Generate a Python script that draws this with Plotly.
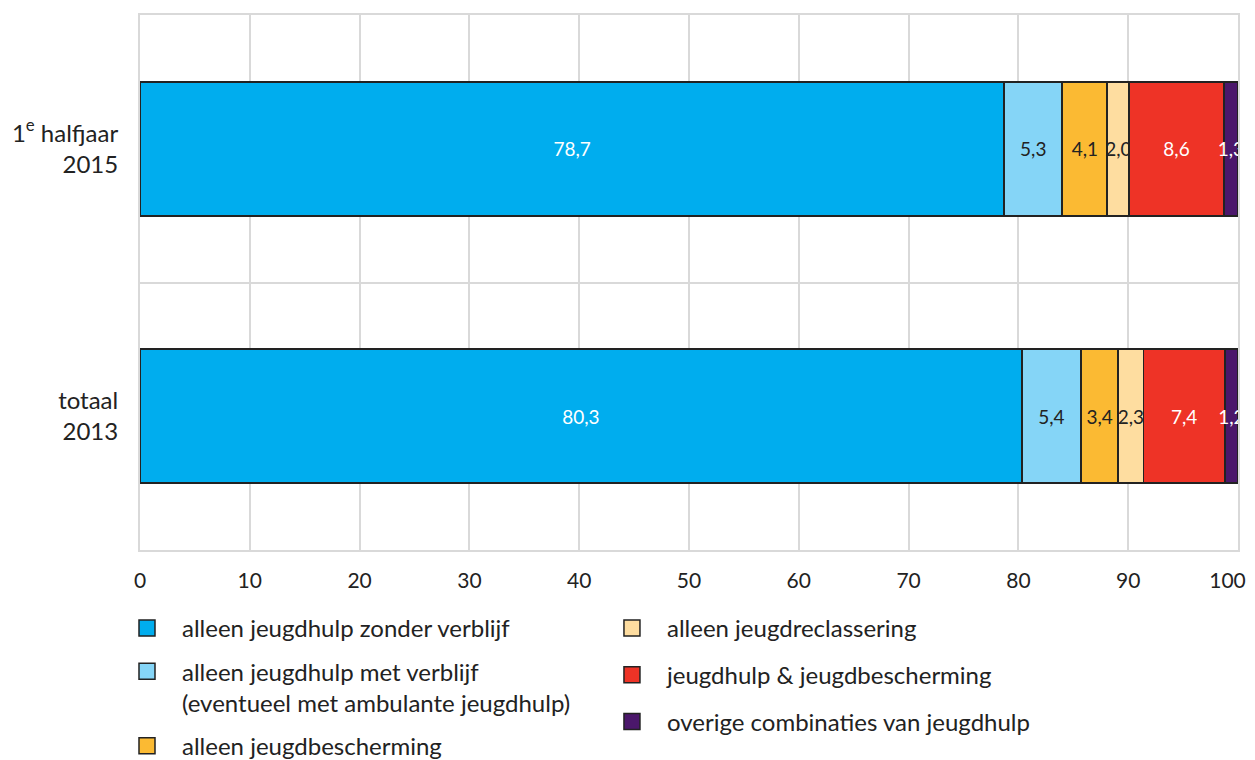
import plotly.graph_objects as go

categories = ["totaal<br>2013", "1<sup>e</sup> halfjaar<br>2015"]
series_names = [
    "alleen jeugdhulp zonder verblijf",
    "alleen jeugdhulp met verblijf<br>(eventueel met ambulante jeugdhulp)",
    "alleen jeugdbescherming",
    "alleen jeugdreclassering",
    "jeugdhulp &amp; jeugdbescherming",
    "overige combinaties van jeugdhulp",
]
zonder_verblijf = [80.3, 78.7]
met_verblijf = [5.4, 5.3]
jeugdbescherming = [3.4, 4.1]
jeugdreclassering = [2.3, 2.0]
hulp_en_bescherming = [7.4, 8.6]
overige = [1.2, 1.3]
x_ticks = [0, 10, 20, 30, 40, 50, 60, 70, 80, 90, 100]

values = [zonder_verblijf, met_verblijf, jeugdbescherming, jeugdreclassering,
          hulp_en_bescherming, overige]
colors = ["#00ADEE", "#85D5F7", "#FBBA33", "#FEDDA0", "#EE3326", "#4B176B"]
text_colors = ["white", "#222222", "#222222", "#222222", "white", "white"]

# tick labels; the last one gets trailing spaces so it stays inside the window
x_tick_text = [str(v) for v in x_ticks]
x_tick_text[-1] = x_tick_text[-1] + "\u2002\u2002"

FONT = "Lato"
fig = go.Figure()
for i, (name, vals) in enumerate(zip(series_names, values)):
    fig.add_trace(go.Bar(
        y=categories, x=vals, orientation="h", name=name,
        marker=dict(color=colors[i], line=dict(color="#222222", width=1.8)),
        texttemplate="%{x:.1f}", textposition="inside", textangle=0,
        insidetextanchor="middle", constraintext="none",
        insidetextfont=dict(family=FONT, size=19, color=text_colors[i]),
        showlegend=False, hoverinfo="x+name",
    ))
    # legend entry
    fig.add_trace(go.Scatter(
        x=[None], y=[None], mode="markers", name=name,
        marker=dict(symbol="square", size=20, color=colors[i],
                    line=dict(color="#222222", width=1.5)),
        legend="legend" if i < 3 else "legend2",
        legendgroup=f"g{i}",
    ))

# page body has an 8px default margin, so the figure is sized to fit the window
fig.update_layout(
    width=1247, height=752,
    barmode="stack", bargap=0.5,
    separators=", ",
    paper_bgcolor="white", plot_bgcolor="white",
    font=dict(family=FONT, size=24, color="#222222"),
    margin=dict(l=132, r=17, t=7, b=210, autoexpand=False),
    xaxis=dict(range=[0, 100], tickvals=x_ticks, ticktext=x_tick_text,
               showgrid=True,
               gridcolor="#d9d9d9", gridwidth=2, zeroline=False,
               showline=True, linecolor="#d9d9d9", linewidth=2, mirror=True,
               ticks="outside", ticklen=11, tickcolor="rgba(0,0,0,0)",
               ticklabeloverflow="allow",
               tickfont=dict(size=21), automargin=False),
    yaxis=dict(range=[-0.5, 1.5], tickson="boundaries", showgrid=True,
               gridcolor="#d9d9d9", gridwidth=2, zeroline=False,
               showline=True, linecolor="#d9d9d9", linewidth=2, mirror=True,
               ticks="", ticklabelstandoff=15,
               tickfont=dict(size=24), automargin=False),
    legend=dict(x=0.0834, y=0.2048, xref="container", yref="container",
                xanchor="left", yanchor="top", valign="top",
                traceorder="grouped", tracegroupgap=9, itemwidth=60,
                itemsizing="trace", font=dict(size=24), bgcolor="rgba(0,0,0,0)"),
    legend2=dict(x=0.4723, y=0.2048, xref="container", yref="container",
                 xanchor="left", yanchor="top", valign="top",
                 traceorder="grouped", tracegroupgap=12.5, itemwidth=60,
                 itemsizing="trace", font=dict(size=24), bgcolor="rgba(0,0,0,0)"),
)

fig.write_html("out.html")
